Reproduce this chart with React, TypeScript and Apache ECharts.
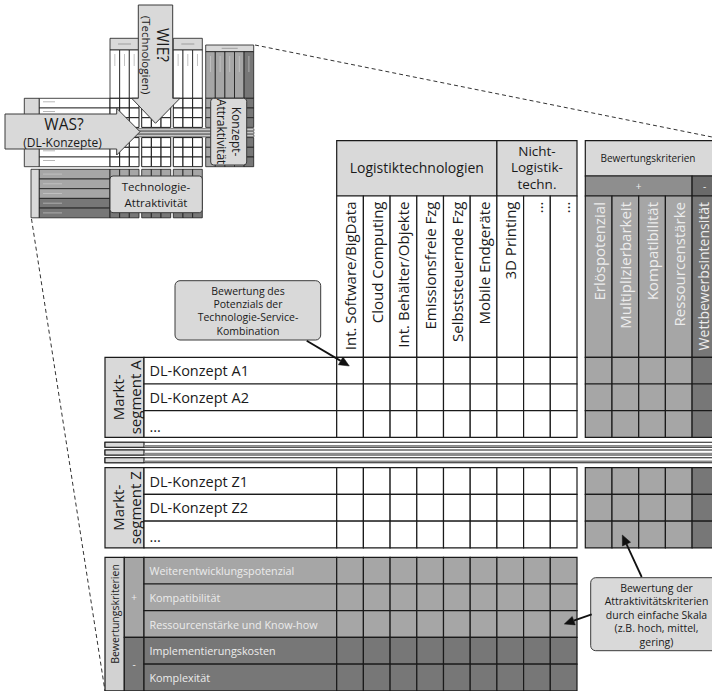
import React, { useEffect, useRef } from "react";
import * as echarts from "echarts";

// ---------- data ----------
const techGroups = ["Logistiktechnologien", "Nicht-\nLogistik-\ntechn."];
const techGroupSpans = [6, 3];
const techColumns = [
  "Int. Software/BigData",
  "Cloud Computing",
  "Int. Behälter/Objekte",
  "Emissionsfreie Fzg",
  "Selbststeuernde Fzg",
  "Mobile Endgeräte",
  "3D Printing",
  "…",
  "…",
];
const criteriaTitle = "Bewertungskriterien";
const conceptCriteria = ["Erlöspotenzial", "Multiplizierbarkeit", "Kompatibilität", "Ressourcenstärke", "Wettbewerbsintensität"];
const conceptCriteriaSigns = ["+", "+", "+", "+", "-"];
const segmentLabels = ["Markt-\nsegment A", "Markt-\nsegment Z"];
const segmentAConcepts = ["DL-Konzept A1", "DL-Konzept A2", "..."];
const segmentZConcepts = ["DL-Konzept Z1", "DL-Konzept Z2", "..."];
const techCriteria = ["Weiterentwicklungspotenzial", "Kompatibilität", "Ressourcenstärke und Know-how", "Implementierungskosten", "Komplexität"];
const techCriteriaSigns = ["+", "+", "+", "-", "-"];
const callout1 = "Bewertung des\nPotenzials der\nTechnologie-Service-\nKombination";
const callout2 = "Bewertung der\nAttraktivitätskriterien\ndurch einfache Skala\n(z.B. hoch, mittel,\ngering)";
const overviewTexts = { was: "WAS?", wasSub: "(DL-Konzepte)", wie: "WIE?", wieSub: "(Technologien)", konzept: "Konzept-\nAttraktivität", tech: "Technologie-\nAttraktivität" };

// ---------- styles ----------
const FONT = "'Open Sans', 'Noto Sans', sans-serif";
const C_LIGHT = "#d9d9d9";
const C_MID = "#a6a6a6";
const C_DARK = "#777777";
const C_SIGN_MID = "#8e8e8e";
const C_SIGN_DARK = "#6a6a6a";
const C_LINE = "#1a1a1a";
const C_TXT = "#1a1a1a";
const C_TXT_L = "#ececec";

function buildGraphic() {
  const els: any[] = [];
  let z = 0;
  const push = (e: any) => { e.z = 10 + (z++) * 0.001; els.push(e); };
  const rect = (x: number, y: number, w: number, h: number, fill: string, lw = 1.2, stroke = C_LINE, r = 0) =>
    push({ type: "rect", shape: { x, y, width: w, height: h, r }, style: { fill, stroke: lw > 0 ? stroke : "none", lineWidth: lw } });
  const text = (x: number, y: number, s: string, size: number, o: any = {}) =>
    push({
      type: "text", x, y, rotation: o.rot || 0,
      style: {
        text: s, fontSize: size, fontFamily: FONT, fill: o.fill || C_TXT, fontWeight: o.weight || "normal",
        align: o.align || "center", textAlign: o.align || "center",
        verticalAlign: o.va || "middle", textVerticalAlign: o.va || "middle",
        lineHeight: o.lh || Math.round(size * 1.25),
      },
    });
  const line = (x1: number, y1: number, x2: number, y2: number, stroke = C_LINE, lw = 1, dash?: number[]) =>
    push({ type: "line", shape: { x1, y1, x2, y2 }, style: { stroke, lineWidth: lw, lineDash: dash || null } });
  const poly = (pts: number[][], fill: string, stroke = "#3a3a3a", lw = 1) =>
    push({ type: "polygon", shape: { points: pts }, style: { fill, stroke, lineWidth: lw } });
  const arrow = (x1: number, y1: number, x2: number, y2: number) => {
    const dx = x2 - x1, dy = y2 - y1, len = Math.hypot(dx, dy), ux = dx / len, uy = dy / len;
    const hl = 10, hw = 4.5;
    const bx = x2 - ux * hl, by = y2 - uy * hl;
    line(x1, y1, bx, by, "#111", 1.8);
    poly([[x2, y2], [bx - uy * hw, by + ux * hw], [bx + uy * hw, by - ux * hw]], "#111", "#111", 0.5);
  };

  // ---------- overview thumbnail ----------
  const mCol = 9.67, mRow = 9.7;
  const mGroups = [110, 141.7, 173.3];
  const mRight = 205.7, mRightW = 9.6;
  mGroups.forEach((gx) => {
    rect(gx, 38.3, 3 * mCol, 11.7, C_LIGHT, 0.8);
    line(gx + 8, 44, gx + 3 * mCol - 8, 44, "#777", 0.6);
    for (let c = 0; c < 3; c++) rect(gx + c * mCol, 50, mCol, 48.3, "#fff", 0.8);
    for (let c = 0; c < 3; c++) line(gx + (c + 0.5) * mCol, 54, gx + (c + 0.5) * mCol, 66, "#999", 0.6);
  });
  rect(mRight, 45, 5 * mRightW, 6.7, C_LIGHT, 0.8);
  line(mRight + 16, 48.3, mRight + 32, 48.3, "#777", 0.6);
  conceptCriteriaSigns.forEach((s, i) => {
    rect(mRight + i * mRightW, 51.7, mRightW, 46.6, s === "+" ? C_MID : C_DARK, 0.8);
    line(mRight + (i + 0.5) * mRightW, 56, mRight + (i + 0.5) * mRightW, 72, "#d0d0d0", 0.6);
  });
  const mSegTops = [98.3, 137.6];
  mSegTops.forEach((top) => {
    rect(24.3, top, 15, 3 * mRow, C_LIGHT, 0.8);
    for (let r = 0; r < 3; r++) {
      rect(39.3, top + r * mRow, 70.7, mRow, "#fff", 0.8);
      mGroups.forEach((gx) => { for (let c = 0; c < 3; c++) rect(gx + c * mCol, top + r * mRow, mCol, mRow, "#fff", 1); });
      for (let c = 0; c < 5; c++) rect(mRight + c * mRightW, top + r * mRow, mRightW, mRow, c < 4 ? C_MID : C_DARK, 0.8);
      line(43, top + r * mRow + 3.5, 55, top + r * mRow + 3.5, "#888", 0.6);
    }
  });
  [128.8, 131.8, 134.8].forEach((y) => {
    rect(24.3, y, 229.6, 2, "#fff", 0.7);
    line(24.3, y + 1.6, 253.9, y + 1.6, "#888", 0.8);
  });
  rect(31, 169.3, 8.3, 5 * mRow, C_LIGHT, 0.8);
  techCriteriaSigns.forEach((s, r) => {
    const f = s === "+" ? C_MID : C_DARK;
    rect(39.3, 169.3 + r * mRow, 70.7, mRow, f, 0.8);
    line(43, 169.3 + r * mRow + 4.8, 62, 169.3 + r * mRow + 4.8, "#d0d0d0", 0.6);
    mGroups.forEach((gx) => { for (let c = 0; c < 3; c++) rect(gx + c * mCol, 169.3 + r * mRow, mCol, mRow, f, 0.8); });
  });
  poly([[138.3, 5], [172.7, 5], [172.7, 98.3], [180, 98.3], [155.5, 123.3], [131.7, 98.3], [138.3, 98.3]], C_LIGHT);
  text(163, 45, overviewTexts.wie, 15.5, { rot: -Math.PI / 2 });
  text(146, 55, overviewTexts.wieSub, 11.5, { rot: -Math.PI / 2 });
  poly([[5, 114], [116.7, 114], [116.7, 108.3], [140, 131.7], [116.7, 155], [116.7, 149], [5, 149]], C_LIGHT);
  text(64, 124, overviewTexts.was, 15.5);
  text(62.5, 142, overviewTexts.wasSub, 12);
  rect(210.7, 98.3, 36, 66.7, C_LIGHT, 1, "#3a3a3a", 3);
  text(228.7, 131.6, overviewTexts.konzept, 12, { rot: -Math.PI / 2, lh: 15 });
  rect(110, 176, 92.3, 36.7, C_LIGHT, 1, "#3a3a3a", 3);
  text(156, 194.5, overviewTexts.tech, 11.5, { lh: 15.5 });
  line(255, 45, 712, 137, "#333", 1, [4, 3]);
  line(31.5, 219, 105, 691, "#333", 1, [4, 3]);

  // ---------- main matrix ----------
  const x0 = 105, segW = 39, nameX = 144, gridX = 336.7, colW = 26.7, rowH = 26.7;
  const hdrTop = 140.7, grpBottom = 196, lblBottom = 357.3;
  const rightX = 585.3, critTitleBottom = 176;

  let cx = gridX;
  techGroups.forEach((g, i) => {
    const w = techGroupSpans[i] * colW;
    rect(cx, hdrTop, w, grpBottom - hdrTop, C_LIGHT);
    text(cx + w / 2, (hdrTop + grpBottom) / 2 - 1, g, i === 0 ? 14 : 13.5, { lh: 16.8 });
    cx += w;
  });
  techColumns.forEach((c, i) => {
    rect(gridX + i * colW, grpBottom, colW, lblBottom - grpBottom, "#fff");
    text(gridX + (i + 0.5) * colW, 201.5, c, 15, { rot: Math.PI / 2, align: "right" });
  });

  const critW = conceptCriteria.length * colW;
  rect(rightX, hdrTop, critW, critTitleBottom - hdrTop, C_LIGHT);
  text(648, (hdrTop + critTitleBottom) / 2, criteriaTitle, 10);
  const plusCount = conceptCriteriaSigns.filter((s) => s === "+").length;
  rect(rightX, critTitleBottom, plusCount * colW, grpBottom - critTitleBottom, C_SIGN_MID);
  text(rightX + (plusCount * colW) / 2, (critTitleBottom + grpBottom) / 2, "+", 10, { fill: C_TXT_L });
  rect(rightX + plusCount * colW, critTitleBottom, (conceptCriteria.length - plusCount) * colW, grpBottom - critTitleBottom, C_SIGN_DARK);
  text(rightX + plusCount * colW + 12.5, (critTitleBottom + grpBottom) / 2, "-", 10, { fill: C_TXT_L });
  conceptCriteria.forEach((c, i) => {
    rect(rightX + i * colW, grpBottom, colW, lblBottom - grpBottom, conceptCriteriaSigns[i] === "+" ? C_MID : C_DARK);
    const last = i === conceptCriteria.length - 1;
    const tx = last ? rightX + i * colW + 11.8 : rightX + (i + 0.5) * colW;
    text(tx, 202, c, last ? 14 : 15, { rot: Math.PI / 2, align: "right", fill: C_TXT_L });
  });

  const segTops = [lblBottom, 467.7];
  const segConcepts = [segmentAConcepts, segmentZConcepts];
  segTops.forEach((top, s) => {
    const concepts = segConcepts[s];
    rect(x0, top, segW, concepts.length * rowH, C_LIGHT);
    text(126, top + (concepts.length * rowH) / 2, segmentLabels[s], 15, { rot: Math.PI / 2, lh: 17 });
    concepts.forEach((name, r) => {
      const y = top + r * rowH;
      rect(nameX, y, gridX - nameX, rowH, "#fff");
      text(nameX + 5.5, y + rowH / 2 - (name === "..." ? -2 : 0), name, 14.5, { align: "left" });
      techColumns.forEach((_, c) => rect(gridX + c * colW, y, colW, rowH, "#fff"));
      conceptCriteria.forEach((_, c) => rect(rightX + c * colW, y, colW, rowH, conceptCriteriaSigns[c] === "+" ? C_MID : C_DARK));
    });
  });

  [442.3, 450, 457.7].forEach((y) => {
    rect(x0, y, rightX + critW - x0, 5, "#fff", 1.1);
    rect(x0, y, segW, 5, C_LIGHT, 1.1);
    line(nameX, y + 3.6, rightX + critW, y + 3.6, "#8a8a8a", 1.6);
  });

  const bTop = 557.3;
  rect(x0, bTop, 19.3, techCriteria.length * rowH, "#d2d2d2");
  text(x0 + 9.65, 614, criteriaTitle, 10.5, { rot: Math.PI / 2 });
  const tPlus = techCriteriaSigns.filter((s) => s === "+").length;
  rect(124.3, bTop, nameX - 124.3, tPlus * rowH, C_MID);
  text(134.2, bTop + (tPlus * rowH) / 2, "+", 10, { fill: C_TXT_L });
  rect(124.3, bTop + tPlus * rowH, nameX - 124.3, (techCriteria.length - tPlus) * rowH, C_DARK);
  text(134.2, bTop + tPlus * rowH + ((techCriteria.length - tPlus) * rowH) / 2, "-", 10, { fill: C_TXT_L });
  techCriteria.forEach((name, r) => {
    const y = bTop + r * rowH;
    const f = techCriteriaSigns[r] === "+" ? C_MID : C_DARK;
    rect(nameX, y, gridX - nameX, rowH, f);
    text(nameX + 5.5, y + rowH / 2, name, 10.8, { align: "left", fill: C_TXT_L });
    techColumns.forEach((_, c) => rect(gridX + c * colW, y, colW, rowH, f));
  });

  rect(175, 280.7, 145.7, 59.3, C_LIGHT, 1, "#3a3a3a", 5);
  text(248, 310.7, callout1, 10.5, { lh: 13.3 });
  arrow(306.7, 340.7, 349.3, 366);

  rect(590.7, 577.7, 130, 73, C_LIGHT, 1, "#3a3a3a", 5);
  text(656.5, 614.7, callout2, 10.5, { lh: 13.6 });
  arrow(641.7, 577, 622.3, 535);
  arrow(591.7, 614.3, 564.3, 624);

  return els;
}

export default function App() {
  const ref = useRef<HTMLDivElement>(null);
  useEffect(() => {
    if (!ref.current) return;
    const chart = echarts.init(ref.current, null, { renderer: "svg" });
    chart.setOption({
      animation: false,
      backgroundColor: "#ffffff",
      graphic: { elements: buildGraphic() },
    });
    return () => chart.dispose();
  }, []);
  return <div ref={ref} style={{ position: "fixed", left: 0, top: 0, width: 712, height: 691, background: "#fff" }} />;
}
